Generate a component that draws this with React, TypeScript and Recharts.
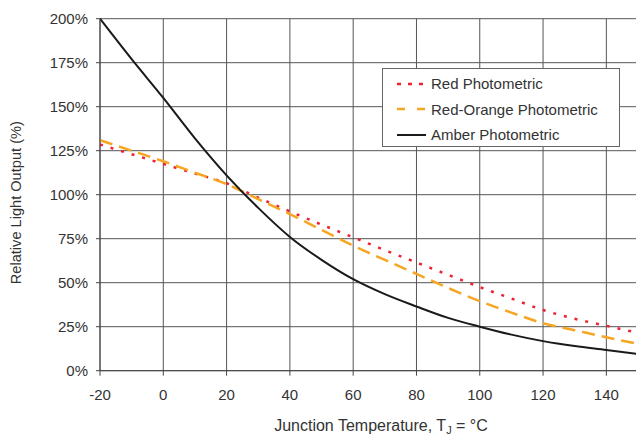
import {
  LineChart,
  Line,
  XAxis,
  YAxis,
  CartesianGrid,
  Legend,
} from "recharts";

const temps = [-20, -10, 0, 10, 20, 30, 40, 50, 60, 70, 80, 90, 100, 110, 120, 130, 140, 150];
const redPhotometric = [128.5, 123, 117.5, 112, 106.5, 98.3, 90.5, 83, 75.8, 68.5, 61.5, 54.5, 47.5, 41, 34.5, 29.5, 25.5, 21.5];
const redOrangePhotometric = [131, 125, 119, 112.5, 106, 97.5, 89, 80, 71, 63, 55, 47, 39.5, 33, 27, 23, 19, 15.2];
const amberPhotometric = [200, 177, 155, 132, 111, 92.5, 76, 63, 52, 43.5, 36.5, 30, 25, 20.5, 16.8, 14, 11.8, 9.5];

const xTicks = [-20, 0, 20, 40, 60, 80, 100, 120, 140];
const yTicks = [0, 25, 50, 75, 100, 125, 150, 175, 200];

const data = temps.map((t, i) => ({
  t,
  red: redPhotometric[i],
  redOrange: redOrangePhotometric[i],
  amber: amberPhotometric[i],
}));

const series = [
  { key: "red", name: "Red Photometric", color: "#ee2233", dash: "3 8", legendDash: "4 7", width: 2.5 },
  { key: "redOrange", name: "Red-Orange Photometric", color: "#f6a623", dash: "13 7", legendDash: "8 12", width: 2.5 },
  { key: "amber", name: "Amber Photometric", color: "#1a1a1a", dash: undefined, legendDash: undefined, width: 2 },
];

const font = "'Liberation Sans', Arial, sans-serif";
const textColor = "#333";

function XLabel({ viewBox }: any) {
  const cx = viewBox.x + viewBox.width / 2 + 12;
  return (
    <text x={cx} y={431} textAnchor="middle" fontFamily={font} fontSize={16} fill={textColor}>
      Junction Temperature, T
      <tspan fontSize={11} dy={3}>J</tspan>
      <tspan dy={-3}> = °C</tspan>
    </text>
  );
}

function YLabel({ viewBox }: any) {
  const cy = viewBox.y + viewBox.height / 2 + 8;
  return (
    <text
      x={21}
      y={cy}
      transform={`rotate(-90 21 ${cy})`}
      textAnchor="middle"
      fontFamily={font}
      fontSize={14.6}
      fill={textColor}
    >
      Relative Light Output (%)
    </text>
  );
}

function LegendBox() {
  return (
    <div
      style={{
        background: "#fff",
        border: "1px solid #666",
        width: 236,
        height: 75,
        boxSizing: "content-box",
        fontFamily: font,
        fontSize: 15,
        color: textColor,
        paddingTop: 2,
        textAlign: "left",
      }}
    >
      {series.map((s) => (
        <div key={s.key} style={{ display: "flex", alignItems: "center", height: 25.5, paddingLeft: 14 }}>
          <svg width={30} height={10} style={{ marginRight: 4 }}>
            <line x1={0} y1={5} x2={29} y2={5} stroke={s.color} strokeWidth={s.width} strokeDasharray={s.legendDash} />
          </svg>
          <span>{s.name}</span>
        </div>
      ))}
    </div>
  );
}

export default function App() {
  return (
    <div style={{ width: 636, height: 435, overflow: "hidden", background: "#fff" }}>
      <style>{"body{margin:0}"}</style>
      <LineChart
        width={636}
        height={435}
        data={data}
        margin={{ top: 18.7, right: -2, bottom: 0, left: 0 }}
      >
        <CartesianGrid stroke="#555" strokeWidth={1} />
        <XAxis
          dataKey="t"
          type="number"
          domain={[-20, 150]}
          ticks={xTicks}
          allowDataOverflow
          height={64.3}
          stroke="#444"
          tickSize={5}
          tickMargin={14}
          tick={{ fontSize: 15, fill: textColor, fontFamily: font }}
          label={<XLabel />}
        />
        <YAxis
          type="number"
          domain={[0, 200]}
          ticks={yTicks}
          width={100}
          stroke="#444"
          tickSize={4}
          tickMargin={8}
          tickFormatter={(v) => `${v}%`}
          tick={{ fontSize: 15, fill: textColor, fontFamily: font }}
          label={<YLabel />}
        />
        <Legend
          layout="vertical"
          align="center"
          verticalAlign="middle"
          content={<LegendBox />}
          wrapperStyle={{ top: 68, left: 382, width: 238, height: 77 }}
        />
        {series.map((s) => (
          <Line
            key={s.key}
            dataKey={s.key}
            name={s.name}
            type="monotone"
            stroke={s.color}
            strokeWidth={s.width}
            strokeDasharray={s.dash}
            dot={false}
            isAnimationActive={false}
          />
        ))}
      </LineChart>
    </div>
  );
}
